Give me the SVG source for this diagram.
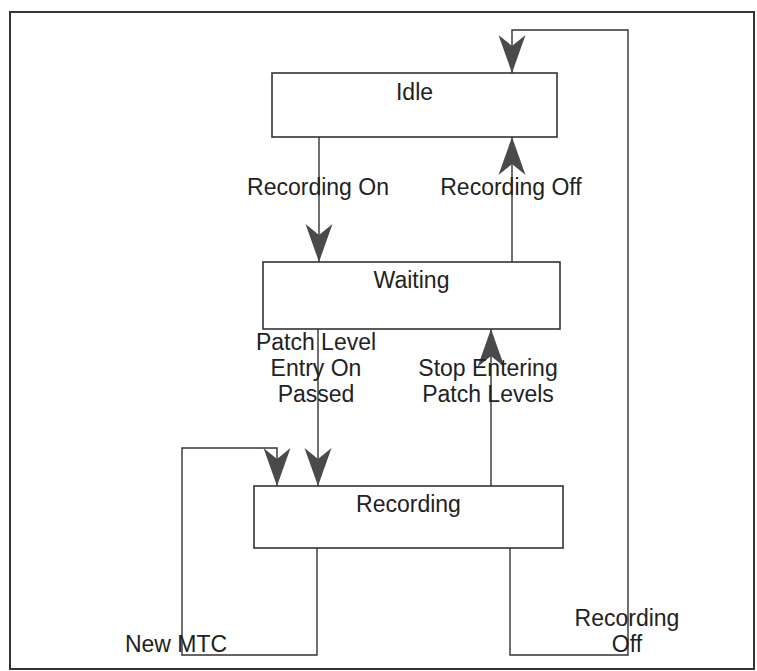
<svg xmlns="http://www.w3.org/2000/svg" width="757" height="671" viewBox="0 0 757 671">
<style>
.frame{fill:none;stroke:#333;stroke-width:2}
.box{fill:#fff;stroke:#333;stroke-width:1.6}
.con{fill:none;stroke:#333;stroke-width:1.4}
text{font-family:"Liberation Sans",Arial,sans-serif;font-size:23px;fill:#222;text-anchor:middle}
</style>
<defs>
<marker id="ah" viewBox="0 -14 38 28" refX="38" refY="0" markerWidth="38" markerHeight="28" markerUnits="userSpaceOnUse" orient="auto">
<path d="M38,0 L0,-13.5 L11,0 L0,13.5 Z" fill="#4a4a4a"/>
</marker>
</defs>
<rect width="757" height="671" fill="#fff"/>
<rect class="frame" x="10" y="12" width="744" height="657"/>
<g id="connectors">
<path class="con" d="M319,137 V262" marker-end="url(#ah)"/>
<path class="con" d="M512,262 V137" marker-end="url(#ah)"/>
<path class="con" d="M318,329 V486" marker-end="url(#ah)"/>
<path class="con" d="M491,486 V329" marker-end="url(#ah)"/>
<path class="con" d="M317,548 V655 H182 V448 H277 V486" marker-end="url(#ah)"/>
<path class="con" d="M510,548 V655 H628 V30 H512 V73" marker-end="url(#ah)"/>
</g>
<g id="labels">
<text x="318" y="195">Recording On</text>
<text x="511" y="195">Recording Off</text>
<text x="316" y="350">Patch Level</text>
<text x="316" y="376">Entry On</text>
<text x="316" y="402">Passed</text>
<text x="488" y="376">Stop Entering</text>
<text x="488" y="402">Patch Levels</text>
<text x="176" y="652">New MTC</text>
<text x="627" y="626">Recording</text>
<text x="627" y="652">Off</text>
</g>
<g id="idle">
<rect class="box" x="272" y="73" width="285" height="64"/>
<text x="414.5" y="100">Idle</text>
</g>
<g id="waiting">
<rect class="box" x="263" y="262" width="297" height="67"/>
<text x="411.5" y="288">Waiting</text>
</g>
<g id="recording">
<rect class="box" x="254" y="486" width="309" height="62"/>
<text x="408.5" y="512">Recording</text>
</g>
</svg>
